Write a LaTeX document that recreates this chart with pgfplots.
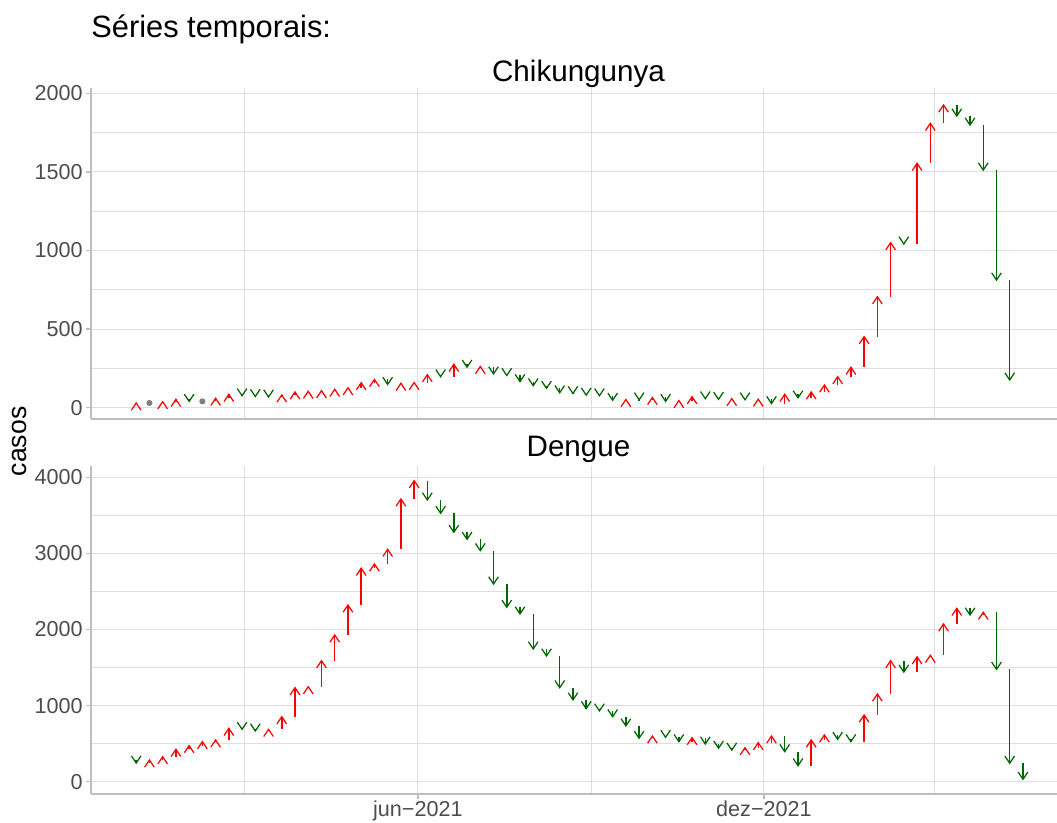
\documentclass[border=0pt]{standalone}
\usepackage{fontspec}
\setmainfont{Liberation Sans}
\usepackage{pgfplots}
\pgfplotsset{compat=1.18}
\usepackage{pgfplotstable}
\definecolor{upred}{RGB}{255,0,0}
\definecolor{downgreen}{RGB}{0,100,0}
\definecolor{dotgray}{RGB}{127,127,127}
\definecolor{gridgray}{RGB}{222,222,222}
\definecolor{axisgray}{RGB}{190,190,190}
\definecolor{ticktext}{RGB}{77,77,77}

\pgfdeclareplotmark{headup}{%
  \pgfpathmoveto{\pgfqpoint{-2.4pt}{-3.6pt}}%
  \pgfpathlineto{\pgfqpoint{0pt}{0pt}}%
  \pgfpathlineto{\pgfqpoint{2.4pt}{-3.6pt}}%
  \pgfusepathqstroke}
\pgfdeclareplotmark{headdown}{%
  \pgfpathmoveto{\pgfqpoint{-2.4pt}{3.6pt}}%
  \pgfpathlineto{\pgfqpoint{0pt}{0pt}}%
  \pgfpathlineto{\pgfqpoint{2.4pt}{3.6pt}}%
  \pgfusepathqstroke}

\pgfplotstableread{
x prev y
2 22 30
9 30 30
16 30 38
23 38 53
30 53 40
37 40 40
44 40 60
51 60 85
58 85 76
65 76 71
72 71 68
79 68 81
86 81 100
93 100 104
100 104 108
107 108 117
114 117 127
121 127 159
128 159 180
135 180 148
142 148 155
149 155 160
156 160 210
163 210 197
170 197 276
177 276 258
184 258 262
191 262 215
198 215 205
205 205 166
212 166 140
219 140 123
226 123 95
233 95 90
240 90 80
247 80 76
254 76 47
261 47 52
268 52 50
275 50 65
282 65 40
289 40 45
296 45 70
303 70 57
310 57 53
317 53 58
324 58 50
331 50 54
338 54 26
345 26 85
352 85 62
359 62 100
366 100 144
373 144 197
380 197 257
387 257 452
394 452 706
401 706 1050
408 1050 1042
415 1042 1555
422 1555 1809
429 1809 1926
436 1926 1856
443 1856 1798
450 1798 1512
457 1512 812
464 812 176
}\chik

\pgfplotstableread{
x prev y
2 290 245
9 245 285
16 285 329
23 329 425
30 425 474
37 474 526
44 526 548
51 548 701
58 701 688
65 688 666
72 666 688
79 688 854
86 854 1235
93 1235 1248
100 1248 1590
107 1590 1928
114 1928 2322
121 2322 2804
128 2804 2861
135 2861 3054
142 3054 3715
149 3715 3955
156 3955 3702
163 3702 3527
170 3527 3277
177 3277 3185
184 3185 3036
191 3036 2598
198 2598 2291
205 2291 2204
212 2204 1744
219 1744 1652
226 1652 1235
233 1235 1074
240 1074 960
247 960 930
254 930 854
261 854 732
268 732 570
275 570 600
282 600 583
289 583 526
296 526 580
303 580 495
310 495 440
317 440 415
324 415 447
331 447 513
338 513 600
345 600 395
352 395 210
359 210 548
366 548 614
373 614 557
380 557 526
387 526 876
394 876 1152
401 1152 1590
408 1590 1440
415 1440 1640
422 1640 1660
429 1660 2072
436 2072 2278
443 2278 2190
450 2190 2226
457 2226 1477
464 1477 242
471 242 31
}\dengue

\pgfplotsset{
  panel/.style={
    scale only axis, width=483pt,
    xmin=-21.9, xmax=489,
    axis x line*=bottom, axis y line*=left,
    axis line style={draw=axisgray, line width=0.6pt, -},
    tick align=outside, major tick length=2.5pt, minor tick length=0pt,
    tick style={draw=axisgray, line width=0.6pt},
    grid=both,
    major grid style={draw=gridgray, line width=0.55pt},
    minor grid style={draw=gridgray, line width=0.4pt},
    xtick={151,334}, minor xtick={59,243,424},
    /pgf/number format/assume math mode=true,
    /pgf/number format/1000 sep={},
    scaled y ticks=false,
    ticklabel style={font=\fontsize{10.8}{13}\selectfont, text=ticktext},
    yticklabel style={anchor=east, inner sep=0pt, xshift=-1.5pt},
  },
  uparr/.style={only marks, mark=headup, color=upred,
    mark options={draw=upred, line width=0.62pt, line join=miter, line cap=butt},
    error bars/.cd, y dir=minus, y explicit, error mark=none,
    error bar style={draw=upred, line width=0.75pt, line cap=butt},
    /pgfplots/.cd,
    restrict expr to domain={\thisrow{y}-\thisrow{prev}}{0.5:100000}},
  downarr/.style={only marks, mark=headdown, color=downgreen,
    mark options={draw=downgreen, line width=0.62pt, line join=miter, line cap=butt},
    error bars/.cd, y dir=plus, y explicit, error mark=none,
    error bar style={draw=downgreen, line width=0.75pt, line cap=butt},
    /pgfplots/.cd,
    restrict expr to domain={\thisrow{y}-\thisrow{prev}}{-100000:-0.5}},
}

\begin{document}
\begin{tikzpicture}
\path[use as bounding box] (0,0) rectangle (528.5pt,-411.5pt);
\node[anchor=base west, inner sep=0pt, font=\fontsize{15.4}{18}\selectfont] at (45.5pt,-19pt) {Séries temporais:};
\node[anchor=base, inner sep=0pt, font=\fontsize{14.8}{18}\selectfont] at (289.25pt,-40.8pt) {Chikungunya};
\node[anchor=base, inner sep=0pt, font=\fontsize{14.8}{18}\selectfont] at (289.25pt,-228.3pt) {Dengue};
\node[anchor=base, inner sep=0pt, rotate=90, font=\fontsize{13.3}{16}\selectfont] at (13.3pt,-220.7pt) {casos};

\begin{axis}[panel, at={(45.5pt,-209.5pt)}, anchor=south west, height=165.5pt,
  ymin=-72, ymax=2034, ytick={0,500,1000,1500,2000}, minor ytick={250,750,1250,1750},
  xticklabels={}, xtick style={draw=none}]
\addplot[uparr] table[x=x, y=y, y error expr=\thisrow{y}-\thisrow{prev}] {\chik};
\addplot[downarr] table[x=x, y=y, y error expr=\thisrow{prev}-\thisrow{y}] {\chik};
\addplot[only marks, mark=*, mark size=1.3pt, color=dotgray,
  restrict expr to domain={\thisrow{y}-\thisrow{prev}}{-0.5:0.5}] table[x=x, y=y] {\chik};
\end{axis}

\begin{axis}[panel, at={(45.5pt,-397pt)}, anchor=south west, height=164pt,
  ymin=-162, ymax=4148, ytick={0,1000,2000,3000,4000}, minor ytick={500,1500,2500,3500},
  xticklabels={jun−2021,dez−2021},
  xticklabel style={anchor=north, inner sep=0pt, yshift=-0.5pt}]
\addplot[uparr] table[x=x, y=y, y error expr=\thisrow{y}-\thisrow{prev}] {\dengue};
\addplot[downarr] table[x=x, y=y, y error expr=\thisrow{prev}-\thisrow{y}] {\dengue};
\end{axis}
\end{tikzpicture}
\end{document}
